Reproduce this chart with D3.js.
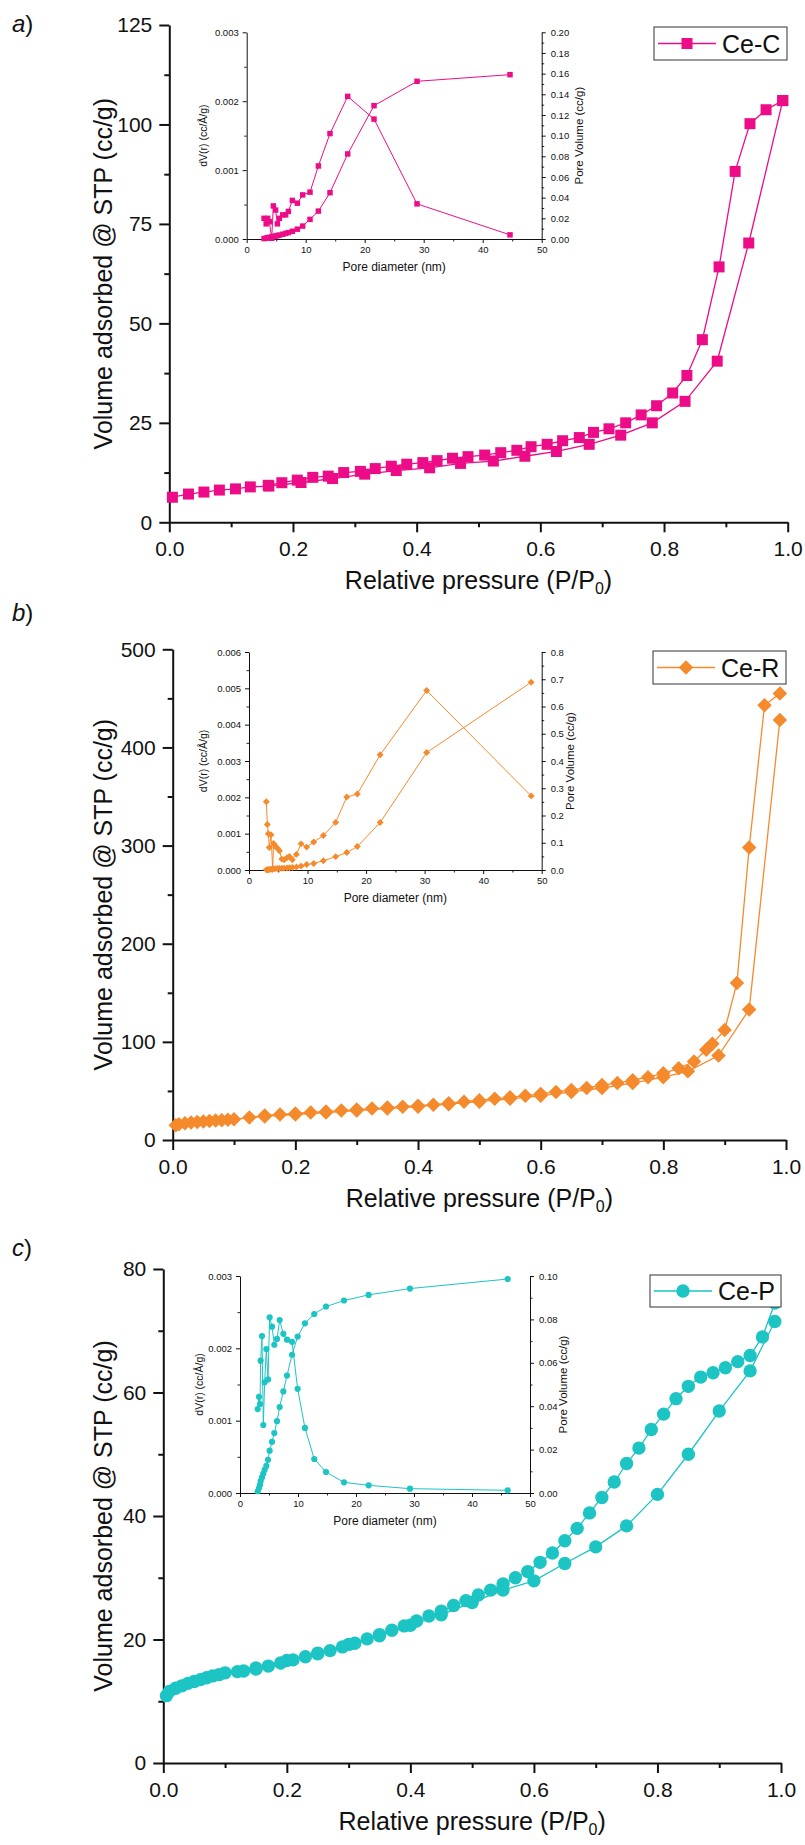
<!DOCTYPE html>
<html>
<head>
<meta charset="utf-8">
<script src="https://cdn.jsdelivr.net/npm/d3@7"></script>
<style>
  body { margin: 0; background: #fff; }
  text { font-family: "Liberation Sans", Arial, sans-serif; fill: #111; }
</style>
</head>
<body>
<div id="my_dataviz"></div>
<script>
// ---------- data ----------
// tick labels
var xTicks = [0, 0.2, 0.4, 0.6, 0.8, 1.0];
var xMinor = [0.1, 0.3, 0.5, 0.7, 0.9];
var yTicksA = [0, 25, 50, 75, 100, 125];
var yTicksB = [0, 100, 200, 300, 400, 500];
var yTicksC = [0, 20, 40, 60, 80];
var insetXTicks = [0, 10, 20, 30, 40, 50];

// a) Ce-C isotherm
var ceC_adsP = [0.005,0.031,0.056,0.081,0.107,0.131,0.161,0.213,0.264,0.316,0.367,0.421,0.471,0.524,0.575,0.626,0.679,0.730,0.781,0.834,0.886,0.937,0.992];
var ceC_adsV = [6.3,7.1,7.6,8.1,8.4,8.9,9.1,10.0,11.0,12.1,13.0,13.7,14.8,15.4,16.6,17.8,19.6,21.9,25.0,30.4,40.5,70.2,106.0];
var ceC_desP = [0.992,0.965,0.939,0.915,0.889,0.862,0.837,0.814,0.788,0.763,0.738,0.711,0.686,0.663,0.636,0.611,0.585,0.562,0.536,0.510,0.483,0.458,0.433,0.410,0.384,0.359,0.333,0.309,0.282,0.257,0.232,0.207,0.182,0.160];
var ceC_desV = [106.0,103.7,100.2,88.2,64.2,45.9,36.9,32.5,29.3,27.0,25.0,23.5,22.6,21.3,20.5,19.6,19.0,18.1,17.5,16.9,16.5,16.1,15.5,15.0,14.6,14.1,13.5,12.8,12.5,11.6,11.3,10.6,9.95,9.3];
// a) inset pore size distribution
var ceC_diam = [2.94,3.3,3.56,3.84,4.24,4.52,4.9,5.2,5.54,6.1,6.6,7.06,7.74,8.59,9.49,10.73,12.15,14.12,17.12,21.58,28.87,44.63];
var ceC_dV   = [0.0003,0.00022,0.0003,0.00025,0.00001,0.00048,0.00042,0.00022,0.0003,0.00035,0.00035,0.0004,0.00056,0.00052,0.00064,0.00068,0.00106,0.00153,0.00207,0.00174,0.00051,0.00006];
var ceC_pv   = [0.0004,0.0008,0.0012,0.0016,0.002,0.0024,0.0029,0.0033,0.0038,0.0046,0.0054,0.0062,0.0075,0.0095,0.0125,0.019,0.027,0.0448,0.0823,0.129,0.1526,0.159];

// b) Ce-R isotherm
var ceR_adsP = [0.005,0.01,0.02,0.03,0.04,0.05,0.06,0.07,0.08,0.09,0.1,0.15,0.2,0.25,0.3,0.35,0.4,0.45,0.5,0.55,0.6,0.65,0.7,0.75,0.8,0.84,0.89,0.94,0.99];
var ceR_adsV = [15,16,17,17.8,18.3,18.8,19.3,19.8,20.2,20.7,21.2,24,26,28,30,32,34,36.5,39,42,45,49,53,58,64,70,86,133,428];
var ceR_desP = [0.99,0.965,0.94,0.92,0.9,0.88,0.87,0.85,0.825,0.8,0.775,0.75,0.725,0.7,0.675,0.65,0.625,0.6,0.575,0.55,0.525,0.5,0.475,0.45,0.425,0.4,0.375,0.35,0.325,0.3,0.275,0.25,0.225,0.2,0.175,0.15,0.125];
var ceR_desV = [455,443,298,160,112,98,92,80,73,68,64,61,58,56,53,51,49,47,45,43.5,42,40.5,39,37.5,36,35,34,33,32,31,30,29,28,27,26,25,23];
// b) inset
var ceR_diam = [2.96,3.13,3.3,3.47,3.76,4.05,4.2,4.5,4.84,5.2,5.6,6.0,6.5,6.9,7.4,8.1,8.9,9.85,11.05,12.7,14.8,16.7,18.5,22.4,30.35,48.2];
var ceR_dV   = [0.00188,0.00125,0.001,0.00062,0.00097,0.00002,0.00073,0.00066,0.0006,0.00053,0.0003,0.00028,0.00034,0.00037,0.00028,0.00043,0.00072,0.00063,0.00077,0.00095,0.00131,0.00201,0.00209,0.00317,0.00494,0.00204];
var ceR_pv   = [0.0005,0.001,0.0015,0.002,0.003,0.0035,0.004,0.005,0.0055,0.006,0.0065,0.007,0.0075,0.008,0.009,0.011,0.015,0.02,0.024,0.034,0.049,0.064,0.086,0.174,0.431,0.689];

// c) Ce-P isotherm
var ceP_adsP = [0.005,0.01,0.02,0.03,0.04,0.05,0.06,0.07,0.08,0.09,0.1,0.15,0.2,0.25,0.3,0.35,0.4,0.45,0.5,0.55,0.6,0.65,0.7,0.75,0.8,0.85,0.9,0.95,0.99];
var ceP_adsV = [10.9,11.6,12.1,12.5,12.9,13.2,13.5,13.8,14.1,14.3,14.6,15.4,16.6,17.8,19.2,20.6,22.3,24.0,26.0,28.0,29.5,32.3,35.0,38.4,43.5,50.0,57.0,63.5,71.5];
var ceP_desP = [0.99,0.97,0.95,0.93,0.91,0.89,0.87,0.85,0.83,0.81,0.79,0.77,0.75,0.73,0.71,0.69,0.67,0.65,0.63,0.61,0.59,0.57,0.55,0.53,0.51,0.49,0.47,0.45,0.43,0.41,0.39,0.37,0.35,0.33,0.31,0.29,0.27,0.25,0.23,0.21,0.19,0.17,0.15,0.13,0.12];
var ceP_desV = [74.5,69,66,65,64,63.2,62.5,61,59,56.5,54,51,48.5,45.5,43,40.5,38,36,34,32.5,31,30,29,28,27.2,26.3,25.5,24.6,23.8,23,22.2,21.5,20.8,20.1,19.4,18.8,18.2,17.7,17.2,16.7,16.2,15.7,15.2,14.9,14.8];
// c) inset
var ceP_diam = [3.05,3.28,3.45,3.56,3.79,4.02,4.25,4.54,4.83,5.11,5.52,5.92,6.38,6.84,7.47,8.1,8.97,9.94,11.2,12.8,14.83,17.93,22.18,29.3,46.15];
var ceP_dV   = [0.00116,0.00133,0.00123,0.00183,0.00217,0.00094,0.00153,0.00199,0.00157,0.00243,0.0023,0.00205,0.00213,0.00239,0.0022,0.00212,0.00209,0.00144,0.0009,0.00047,0.00029,0.000147,0.000106,0.00006,0.000037];
var ceP_pv   = [0.0008,0.0023,0.0038,0.0055,0.0072,0.009,0.0107,0.0125,0.0153,0.0195,0.0236,0.0276,0.0331,0.0396,0.0468,0.0541,0.0637,0.0721,0.0782,0.0825,0.0859,0.0887,0.0913,0.0942,0.0986];

// ---------- layout ----------
var panels = [
  { tag: "a", name: "Ce-C", color: "#ED0C87", shape: "square",
    adsP: ceC_adsP, adsV: ceC_adsV, desP: ceC_desP, desV: ceC_desV,
    yMax: 125, yTicks: yTicksA, yMinorStep: 12.5,
    x0: 169.3, x1: 787.7, y0: 522.3, y1: 25, tagY: 32,
    leg: {x: 654, y: 27, w: 133, h: 33},
    inset: { x0: 246.7, x1: 541.7, y0: 239, y1: 32.3,
      diam: ceC_diam, dV: ceC_dV, pv: ceC_pv,
      lMax: 0.003, lTicks: [0, 0.001, 0.002, 0.003], lMinor: [0.0005, 0.0015, 0.0025], lFmt: ".3f",
      rMax: 0.2, rTicks: [0, 0.02, 0.04, 0.06, 0.08, 0.1, 0.12, 0.14, 0.16, 0.18, 0.2],
      rMinor: [0.01, 0.03, 0.05, 0.07, 0.09, 0.11, 0.13, 0.15, 0.17, 0.19], rFmt: ".2f",
      lTitleX: 207, rTitleX: 579 } },
  { tag: "b", name: "Ce-R", color: "#F58A2C", shape: "diamond",
    adsP: ceR_adsP, adsV: ceR_adsV, desP: ceR_desP, desV: ceR_desV,
    yMax: 500, yTicks: yTicksB, yMinorStep: 50,
    x0: 172.7, x1: 786, y0: 1140, y1: 649.3, tagY: 621,
    leg: {x: 653, y: 651, w: 133, h: 33},
    inset: { x0: 249, x1: 541.7, y0: 870, y1: 652,
      diam: ceR_diam, dV: ceR_dV, pv: ceR_pv,
      lMax: 0.006, lTicks: [0, 0.001, 0.002, 0.003, 0.004, 0.005, 0.006],
      lMinor: [0.0005, 0.0015, 0.0025, 0.0035, 0.0045, 0.0055], lFmt: ".3f",
      rMax: 0.8, rTicks: [0, 0.1, 0.2, 0.3, 0.4, 0.5, 0.6, 0.7, 0.8],
      rMinor: [0.05, 0.15, 0.25, 0.35, 0.45, 0.55, 0.65, 0.75], rFmt: ".1f",
      lTitleX: 207, rTitleX: 570 } },
  { tag: "c", name: "Ce-P", color: "#1CC4C4", shape: "circle",
    adsP: ceP_adsP, adsV: ceP_adsV, desP: ceP_desP, desV: ceP_desV,
    yMax: 80, yTicks: yTicksC, yMinorStep: 10,
    x0: 163.3, x1: 781, y0: 1763, y1: 1269, tagY: 1256,
    leg: {x: 650, y: 1275, w: 131, h: 32},
    inset: { x0: 240, x1: 530, y0: 1493, y1: 1276,
      diam: ceP_diam, dV: ceP_dV, pv: ceP_pv,
      lMax: 0.003, lTicks: [0, 0.001, 0.002, 0.003], lMinor: [0.0005, 0.0015, 0.0025], lFmt: ".3f",
      rMax: 0.1, rTicks: [0, 0.02, 0.04, 0.06, 0.08, 0.1],
      rMinor: [0.01, 0.03, 0.05, 0.07, 0.09], rFmt: ".2f",
      lTitleX: 203, rTitleX: 563 } }
];

var svg = d3.select("#my_dataviz")
  .append("svg")
    .attr("width", 805)
    .attr("height", 1845);

svg.append("rect").attr("width", 805).attr("height", 1845).attr("fill", "#fff");

function symbolFor(shape, big) {
  if (shape == "square") return d3.symbol().type(d3.symbolSquare).size(big ? 121 : 30);
  if (shape == "diamond") return d3.symbol().type(d3.symbolSquare).size(big ? 105 : 24);
  return d3.symbol().type(d3.symbolCircle).size(big ? 140 : 30);
}

function styleAxis(g, w, fs) {
  g.select(".domain").attr("stroke", "#111").attr("stroke-width", w);
  g.selectAll(".tick line").attr("stroke", "#111").attr("stroke-width", w);
  g.selectAll(".tick text").attr("font-size", fs).attr("fill", "#111")
    .attr("font-family", "'Liberation Sans', Arial, sans-serif");
}

function drawSeries(g, xs, ys, x, y, p, big) {
  var pts = xs.map(function(d, i) { return [d, ys[i]]; });
  g.append("path")
    .datum(pts)
    .attr("fill", "none")
    .attr("stroke", p.color)
    .attr("stroke-width", big ? 1.3 : 1)
    .attr("d", d3.line()
      .x(function(d) { return x(d[0]); })
      .y(function(d) { return y(d[1]); }));
  var sym = symbolFor(p.shape, big);
  g.selectAll(null)
    .data(pts)
    .enter()
    .append("path")
      .attr("d", sym)
      .attr("fill", p.color)
      .attr("transform", function(d) {
        return "translate(" + x(d[0]) + "," + y(d[1]) + ")" + (p.shape == "diamond" ? " rotate(45)" : "");
      });
}

function drawInset(p) {
  var ins = p.inset;
  var x = d3.scaleLinear().domain([0, 50]).range([ins.x0, ins.x1]);
  var yl = d3.scaleLinear().domain([0, ins.lMax]).range([ins.y0, ins.y1]);
  var yr = d3.scaleLinear().domain([0, ins.rMax]).range([ins.y0, ins.y1]);
  var g = svg.append("g");

  // minor ticks
  g.append("g").attr("transform", "translate(0," + ins.y0 + ")")
    .call(d3.axisBottom(x).tickValues([5, 15, 25, 35, 45]).tickSize(2.5).tickFormat(""))
    .call(function(s) { s.select(".domain").remove(); s.selectAll("line").attr("stroke", "#222"); });
  g.append("g").attr("transform", "translate(" + ins.x0 + ",0)")
    .call(d3.axisLeft(yl).tickValues(ins.lMinor).tickSize(2.5).tickFormat(""))
    .call(function(s) { s.select(".domain").remove(); s.selectAll("line").attr("stroke", "#222"); });
  g.append("g").attr("transform", "translate(" + ins.x1 + ",0)")
    .call(d3.axisRight(yr).tickValues(ins.rMinor).tickSize(2.5).tickFormat(""))
    .call(function(s) { s.select(".domain").remove(); s.selectAll("line").attr("stroke", "#222"); });

  // major axes
  var ax = g.append("g").attr("transform", "translate(0," + ins.y0 + ")")
    .call(d3.axisBottom(x).tickValues(insetXTicks).tickSize(4).tickSizeOuter(0).tickPadding(3));
  styleAxis(ax, 1, 9.5);
  var al = g.append("g").attr("transform", "translate(" + ins.x0 + ",0)")
    .call(d3.axisLeft(yl).tickValues(ins.lTicks).tickSize(4).tickSizeOuter(0).tickPadding(4)
      .tickFormat(d3.format(ins.lFmt)));
  styleAxis(al, 1, 9.5);
  var ar = g.append("g").attr("transform", "translate(" + ins.x1 + ",0)")
    .call(d3.axisRight(yr).tickValues(ins.rTicks).tickSize(4).tickSizeOuter(0).tickPadding(5)
      .tickFormat(d3.format(ins.rFmt)));
  styleAxis(ar, 1, 9.5);

  // titles
  g.append("text")
    .attr("x", (ins.x0 + ins.x1) / 2).attr("y", ins.y0 + 32)
    .attr("text-anchor", "middle").attr("font-size", 12)
    .text("Pore diameter (nm)");
  g.append("text")
    .attr("transform", "translate(" + ins.lTitleX + "," + (ins.y0 + ins.y1) / 2 + ") rotate(-90)")
    .attr("text-anchor", "middle").attr("font-size", 10.5)
    .text("dV(r) (cc/\u00C5/g)");
  g.append("text")
    .attr("transform", "translate(" + (ins.rTitleX + 4) + "," + (ins.y0 + ins.y1) / 2 + ") rotate(-90)")
    .attr("text-anchor", "middle").attr("font-size", 11.5)
    .text("Pore Volume (cc/g)");

  drawSeries(g, ins.diam, ins.dV, x, yl, p, false);
  drawSeries(g, ins.diam, ins.pv, x, yr, p, false);
}

panels.forEach(function(p) {
  var x = d3.scaleLinear().domain([0, 1]).range([p.x0, p.x1]);
  var y = d3.scaleLinear().domain([0, p.yMax]).range([p.y0, p.y1]);
  var g = svg.append("g");

  // minor ticks
  g.append("g").attr("transform", "translate(0," + p.y0 + ")")
    .call(d3.axisBottom(x).tickValues(xMinor).tickSize(5).tickFormat(""))
    .call(function(s) { s.select(".domain").remove(); s.selectAll("line").attr("stroke", "#111").attr("stroke-width", 2); });
  g.append("g").attr("transform", "translate(" + p.x0 + ",0)")
    .call(d3.axisLeft(y).tickValues(p.yTicks.slice(0, -1).map(function(d) { return d + p.yMinorStep; }))
      .tickSize(5).tickFormat(""))
    .call(function(s) { s.select(".domain").remove(); s.selectAll("line").attr("stroke", "#111").attr("stroke-width", 2); });

  // major axes
  var gx = g.append("g").attr("transform", "translate(0," + p.y0 + ")")
    .call(d3.axisBottom(x).tickValues(xTicks).tickSize(10).tickSizeOuter(0).tickPadding(9)
      .tickFormat(d3.format(".1f")));
  styleAxis(gx, 2, 21);
  var gy = g.append("g").attr("transform", "translate(" + p.x0 + ",0)")
    .call(d3.axisLeft(y).tickValues(p.yTicks).tickSize(10).tickSizeOuter(0).tickPadding(7));
  styleAxis(gy, 2, 21);

  // axis titles
  var xt = g.append("text")
    .attr("x", (p.x0 + p.x1) / 2).attr("y", p.y0 + 67)
    .attr("text-anchor", "middle").attr("font-size", 25);
  xt.append("tspan").text("Relative pressure (P/P");
  xt.append("tspan").attr("font-size", 16).attr("dy", 5).text("0");
  xt.append("tspan").attr("dy", -5).text(")");

  g.append("text")
    .attr("transform", "translate(112," + (p.y0 + p.y1) / 2 + ") rotate(-90)")
    .attr("text-anchor", "middle").attr("font-size", 25)
    .text("Volume adsorbed @ STP (cc/g)");

  // panel tag
  var tg = g.append("text").attr("x", 12).attr("y", p.tagY).attr("font-size", 24);
  tg.append("tspan").attr("font-style", "italic").text(p.tag);
  tg.append("tspan").text(")");

  // isotherm curves
  drawSeries(g, p.adsP, p.adsV, x, y, p, true);
  drawSeries(g, p.desP, p.desV, x, y, p, true);

  // legend
  var lg = g.append("g").attr("transform", "translate(" + p.leg.x + "," + p.leg.y + ")");
  lg.append("rect").attr("width", p.leg.w).attr("height", p.leg.h)
    .attr("fill", "#fff").attr("stroke", "#333").attr("stroke-width", 1);
  lg.append("line").attr("x1", 4).attr("x2", 62).attr("y1", p.leg.h / 2).attr("y2", p.leg.h / 2)
    .attr("stroke", p.color).attr("stroke-width", 1.3);
  lg.append("path").attr("d", symbolFor(p.shape, true)())
    .attr("fill", p.color)
    .attr("transform", "translate(33," + p.leg.h / 2 + ")" + (p.shape == "diamond" ? " rotate(45)" : ""));
  lg.append("text").attr("x", 68).attr("y", p.leg.h / 2 + 9).attr("font-size", 25).text(p.name);

  drawInset(p);
});
</script>
</body>
</html>
